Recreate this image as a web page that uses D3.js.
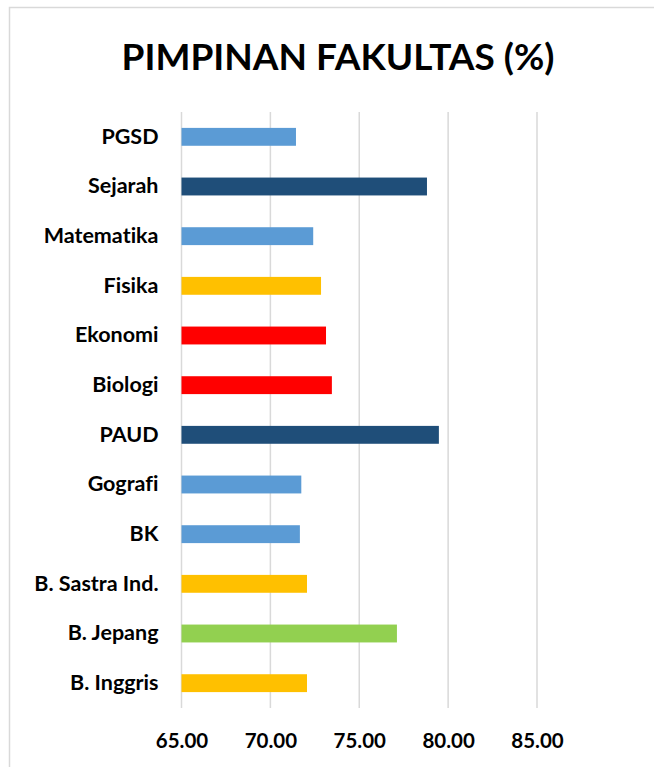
<!DOCTYPE html>
<html lang="en">
<head>
  <meta charset="UTF-8">
  <title>Pimpinan Fakultas</title>
  <script src="https://d3js.org/d3.v7.min.js"></script>
  <style>
    body { margin: 0; background: #fff; }
    text { font-family: Lato, "Open Sans", sans-serif; font-weight: bold; fill: #000; font-variant-ligatures: none; }
  </style>
</head>
<body>
  <div id="chart"></div>

  <script>
    const categories = ["PGSD", "Sejarah", "Matematika", "Fisika", "Ekonomi", "Biologi",
      "PAUD", "Gografi", "BK", "B. Sastra Ind.", "B. Jepang", "B. Inggris"];
    const values = [71.44, 78.81, 72.41, 72.85, 73.13, 73.46, 79.48, 71.74, 71.66, 72.06, 77.12, 72.06];
    const barColors = ["#5B9BD5", "#1F4E79", "#5B9BD5", "#FFC000", "#FF0000", "#FF0000",
      "#1F4E79", "#5B9BD5", "#5B9BD5", "#FFC000", "#92D050", "#FFC000"];
    const tickValues = [65, 70, 75, 80, 85];

    const width = 654;
    const height = 767;

    const svg = d3.select("#chart")
      .append("svg")
      .attr("width", width)
      .attr("height", height);

    // chart border (cropped on the right and bottom)
    svg.append("rect")
      .attr("x", 9.5)
      .attr("y", 7.5)
      .attr("width", 700)
      .attr("height", 800)
      .attr("fill", "none")
      .attr("stroke", "#d9d9d9")
      .attr("stroke-width", 1.5);

    svg.append("text")
      .attr("x", 338)
      .attr("y", 70)
      .attr("text-anchor", "middle")
      .style("font-size", "37px")
      .text("PIMPINAN FAKULTAS (%)");

    const x = d3.scaleLinear()
      .domain([65, 85])
      .range([181.5, 537]);

    const y = d3.scaleBand()
      .domain(categories)
      .range([112, 708])
      .paddingInner(0.64)
      .paddingOuter(0.32);

    // gridlines
    svg.append("g")
      .selectAll("line")
      .data(tickValues)
      .join("line")
      .attr("x1", d => x(d))
      .attr("x2", d => x(d))
      .attr("y1", 112)
      .attr("y2", 708)
      .attr("stroke", "#d9d9d9")
      .attr("stroke-width", 1.5);

    svg.append("g")
      .selectAll("rect")
      .data(values)
      .join("rect")
      .attr("x", x(65))
      .attr("y", (d, i) => y(categories[i]))
      .attr("width", d => x(d) - x(65))
      .attr("height", y.bandwidth())
      .attr("fill", (d, i) => barColors[i]);

    // category labels
    const yAxis = svg.append("g")
      .attr("transform", "translate(181.5,0)")
      .call(d3.axisLeft(y).tickSize(0).tickPadding(23));
    yAxis.select(".domain").remove();
    yAxis.selectAll("text")
      .style("font-size", "21.5px")
      .style("font-family", "Lato, 'Open Sans', sans-serif");

    // value axis labels
    const xAxis = svg.append("g")
      .attr("transform", "translate(0,708)")
      .call(d3.axisBottom(x).tickValues(tickValues).tickFormat(d3.format(".2f")).tickSize(0).tickPadding(25));
    xAxis.select(".domain").remove();
    xAxis.selectAll("text")
      .style("font-size", "20.5px")
      .style("font-family", "Lato, 'Open Sans', sans-serif");
  </script>
</body>
</html>
